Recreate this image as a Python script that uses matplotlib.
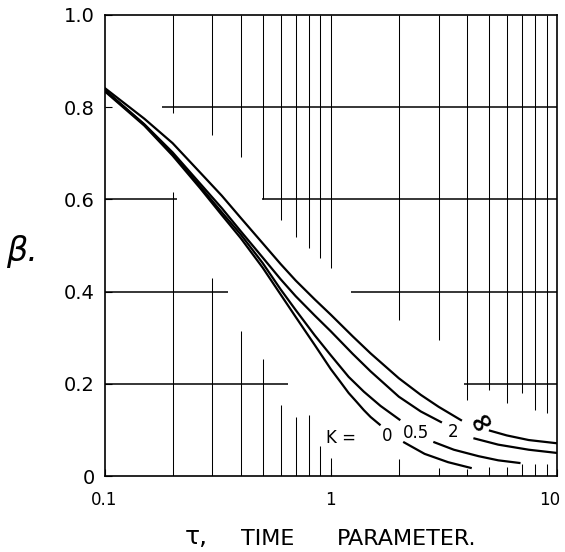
import numpy as np
import matplotlib
matplotlib.use('Agg')
import matplotlib.pyplot as plt
from matplotlib.ticker import NullLocator
from matplotlib.transforms import ScaledTranslation

nan = np.nan

# curves, nan = break where the K label sits
tau_k0 = [0.1, 0.15, 0.2, 0.265, 0.33, 0.4, 0.5, 0.6, 0.7, 0.85, 1.0, 1.1, 1.2, 1.3, 1.4, 1.5, 1.66,
          nan, 2.09, 2.6, 3.3, 4.2]
beta_k0 = [0.835, 0.76, 0.695, 0.624, 0.566, 0.516, 0.452, 0.394, 0.345, 0.284, 0.232, 0.205, 0.18, 0.161, 0.143, 0.128, 0.11,
           nan, 0.074, 0.048, 0.03, 0.017]

tau_k05 = [0.1, 0.15, 0.2, 0.265, 0.33, 0.4, 0.5, 0.6, 0.7, 0.85, 1.0, 1.2, 1.4, 1.66, 2.03,
           nan, 2.84, 3.5, 4.5, 5.5, 6.9]
beta_k05 = [0.837, 0.762, 0.698, 0.628, 0.572, 0.524, 0.462, 0.405, 0.36, 0.305, 0.262, 0.215, 0.183, 0.152, 0.121,
            nan, 0.074, 0.057, 0.043, 0.034, 0.028]

tau_k2 = [0.1, 0.15, 0.2, 0.265, 0.33, 0.4, 0.5, 0.6, 0.7, 0.85, 1.0, 1.25, 1.5, 2.0, 2.5, 3.1,
          nan, 4.27, 5.5, 7.5, 10]
beta_k2 = [0.838, 0.763, 0.702, 0.634, 0.581, 0.531, 0.474, 0.427, 0.39, 0.348, 0.314, 0.265, 0.227, 0.172, 0.14, 0.116,
           nan, 0.082, 0.068, 0.057, 0.05]

tau_kinf = [0.1, 0.15, 0.2, 0.265, 0.33, 0.4, 0.5, 0.6, 0.7, 0.85, 1.0, 1.25, 1.5, 2.0, 2.5, 3.0, 3.8,
            nan, 5.0, 6.0, 7.5, 10]
beta_kinf = [0.842, 0.775, 0.722, 0.658, 0.608, 0.56, 0.505, 0.46, 0.424, 0.383, 0.35, 0.303, 0.266, 0.212, 0.176, 0.15, 0.12,
             nan, 0.099, 0.088, 0.078, 0.071]

k_labels = ['0', '0.5', '2', '\u221e']

x_ticks = [0.1, 1, 10]
x_ticklabels = ['0.1', '1', '10']
y_ticks = [0, 0.2, 0.4, 0.6, 0.8, 1.0]
y_ticklabels = ['0', '0.2', '0.4', '0.6', '0.8', '1.0']

fig = plt.figure(figsize=(5.65, 5.52), dpi=100)
ax = fig.add_axes([104.5 / 565, 1 - 476 / 552, 452.5 / 565, 461 / 552])
ax.set_xscale('log')
ax.set_xlim(0.1, 10)
ax.set_ylim(0, 1.0)

# broken paper grid (old chart look)
# vertical lines: (tau, top piece ends at, bottom piece starts at)
vgrid = [(0.2, 0.787, 0.616), (0.3, 0.74, 0.429), (0.4, 0.693, 0.315), (0.5, 0.6, 0.253),
         (0.6, 0.555, 0.154), (0.7, 0.519, 0.127), (0.8, 0.494, 0.132), (0.9, 0.473, 0.064),
         (1.0, 0.451, 0.04), (2, 0.338, 0.037), (3, 0.295, 0.017), (4, 0.165, 0.015),
         (5, 0.187, 0.02), (6, 0.158, 0.02), (7, 0.18, 0.025), (8, 0.143, 0.025), (9, 0.136, 0.025)]
for x, top_end, bot_start in vgrid:
    ax.vlines(x, top_end, 1.0, color='black', lw=0.75)
    ax.vlines(x, 0, bot_start, color='black', lw=0.75)
# horizontal pieces: (beta, from, to)
hgrid = [(0.8, 0.179, 10), (0.6, 0.1, 0.209), (0.6, 0.496, 10), (0.4, 0.1, 0.35),
         (0.4, 1.23, 10), (0.2, 0.1, 0.65), (0.2, 3.9, 10)]
for y, x0, x1 in hgrid:
    ax.hlines(y, x0, x1, color='black', lw=1.1)

curves = [(tau_k0, beta_k0), (tau_k05, beta_k05), (tau_k2, beta_k2), (tau_kinf, beta_kinf)]
for tau, beta in curves:
    ax.plot(tau, beta, color='black', lw=1.6, solid_capstyle='butt', solid_joinstyle='round')

# inline K labels
ax.text(1.11, 0.082, 'K =', fontsize=12, ha='center', va='center')
label_pos = [(1.78, 0.087), (2.37, 0.094), (3.48, 0.096), (4.64, 0.12)]
for lab, (x, y) in zip(k_labels, label_pos):
    if lab == '\u221e':
        ax.text(x, y, lab, fontsize=20, fontweight='bold', ha='center', va='center', rotation=30)
    else:
        ax.text(x, y, lab, fontsize=12, ha='center', va='center')

ax.set_xticks(x_ticks)
ax.set_xticklabels(x_ticklabels)
ax.xaxis.set_minor_locator(NullLocator())
ax.set_yticks(y_ticks)
ax.set_yticklabels(y_ticklabels)
ax.tick_params(axis='x', direction='in', length=5, width=0.8, labelsize=12, pad=11)
ax.tick_params(axis='y', direction='in', length=5, width=0.8, labelsize=14, pad=7)
# nudge the "10" label so it stays inside the figure
last = ax.get_xticklabels()[-1]
last.set_transform(last.get_transform() + ScaledTranslation(-0.07, 0, fig.dpi_scale_trans))
for s in ax.spines.values():
    s.set_linewidth(1.2)

fig.text(22 / 565, 1 - 252 / 552, '\u03b2.', fontsize=24, style='italic',
         ha='center', va='center')
fig.text(196 / 565, 1 - 537 / 552, '\u03c4,', fontsize=18, ha='center', va='center')
fig.text(268 / 565, 1 - 539 / 552, 'TIME', fontsize=16, ha='center', va='center')
fig.text(407 / 565, 1 - 539 / 552, 'PARAMETER.', fontsize=16, ha='center', va='center')

fig.savefig('out.png', dpi=100)
